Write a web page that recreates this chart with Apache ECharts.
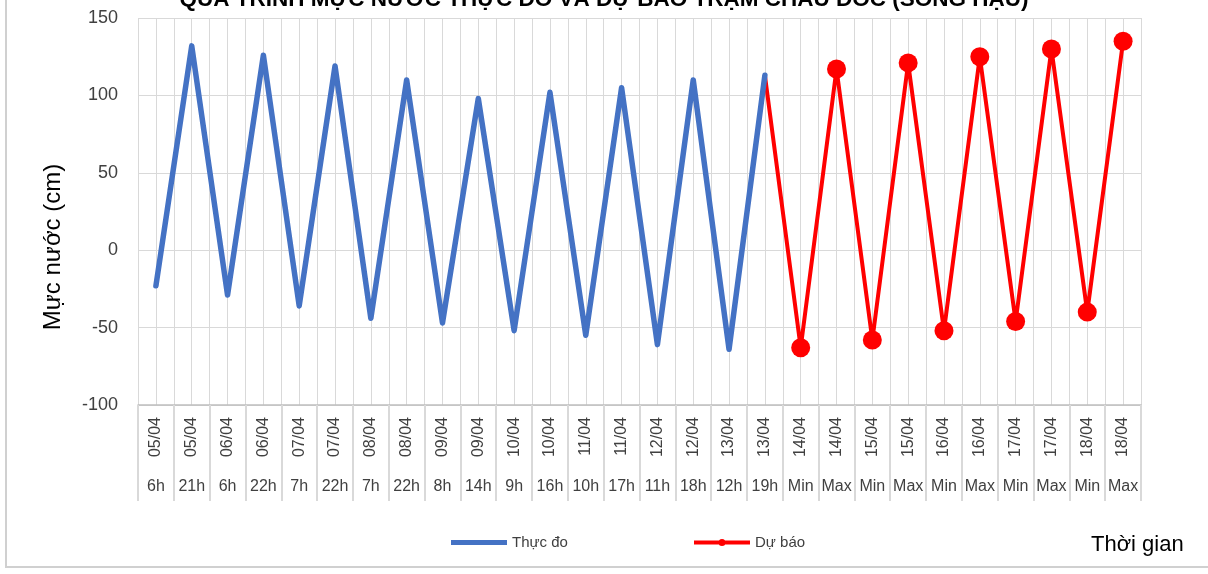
<!DOCTYPE html>
<html lang="vi">

<head>
    <meta charset="UTF-8" />
    <title>Mực nước trạm Châu Đốc</title>
    <script src="https://cdn.jsdelivr.net/npm/echarts@6/dist/echarts.min.js"></script>
    <style>
        * {
            margin: 0;
        }

        #chart {
            width: 1208px;
            height: 574px;
            background: #fff;
        }
    </style>
</head>

<body>
    <div id="chart"></div>
    <script>
        const dates = ["05/04", "05/04", "06/04", "06/04", "07/04", "07/04", "08/04", "08/04", "09/04", "09/04",
            "10/04", "10/04", "11/04", "11/04", "12/04", "12/04", "13/04", "13/04", "14/04", "14/04",
            "15/04", "15/04", "16/04", "16/04", "17/04", "17/04", "18/04", "18/04"];
        const times = ["6h", "21h", "6h", "22h", "7h", "22h", "7h", "22h", "8h", "14h",
            "9h", "16h", "10h", "17h", "11h", "18h", "12h", "19h", "Min", "Max",
            "Min", "Max", "Min", "Max", "Min", "Max", "Min", "Max"];
        // thực đo (measured)
        const observed = [-23, 132, -29, 126, -36, 119, -44, 110, -47, 98, -52, 102, -55, 105, -61, 110, -64, 113];
        // dự báo (forecast), Min/Max from 14/04
        const forecast = [-63, 117, -58, 121, -52, 125, -46, 130, -40, 135];

        const font = "Liberation Sans";
        const gridColor = "#d9d9d9";
        const textColor = "#404040";

        const blueData = dates.map((d, i) => (i < observed.length ? observed[i] : null));
        const last = observed.length - 1;
        const redData = dates.map((d, i) => {
            if (i < last) return null;
            if (i === last) return { value: observed[last], symbol: "none" };
            return forecast[i - observed.length];
        });

        // legend icons: plain bar for measured, bar with small dot for forecast
        const barIcon = "path://M0,0 L56,0 L56,5 L0,5 Z";
        const dotIcon = "path://M0,4 L56,4 L56,8 L0,8 Z M24.5,6 A3.5,3.5 0 1,1 31.5,6 A3.5,3.5 0 1,1 24.5,6 Z";

        const chart = echarts.init(document.getElementById("chart"));
        chart.setOption({
            animation: false,
            textStyle: { fontFamily: font },
            title: {
                text: "QUÁ TRÌNH MỰC NƯỚC THỰC ĐO VÀ DỰ BÁO TRẠM CHÂU ĐỐC (SÔNG HẬU)",
                left: "center",
                top: -17,
                textStyle: { fontFamily: font, fontSize: 22.5, fontWeight: "bold", color: "#000" },
            },
            grid: { left: 138, right: 67, top: 18, bottom: 169 },
            legend: [
                {
                    data: [{ name: "Thực đo", icon: barIcon }],
                    left: 446,
                    top: 530,
                    itemWidth: 56,
                    itemHeight: 5,
                    textStyle: { fontFamily: font, fontSize: 15, color: textColor },
                },
                {
                    data: [{ name: "Dự báo", icon: dotIcon }],
                    left: 689,
                    top: 530,
                    itemWidth: 56,
                    itemHeight: 7,
                    textStyle: { fontFamily: font, fontSize: 15, color: textColor },
                },
            ],
            xAxis: [
                {
                    type: "category",
                    data: dates,
                    position: "bottom",
                    boundaryGap: true,
                    axisLine: { onZero: false, lineStyle: { color: "#bfbfbf", width: 1.5 } },
                    axisTick: { show: true, interval: 0, length: 96, lineStyle: { color: gridColor, width: 2 } },
                    axisLabel: { interval: 0, rotate: 90, margin: 12, fontSize: 16, color: textColor, fontFamily: font },
                    splitLine: { show: false },
                },
                {
                    type: "category",
                    data: times,
                    position: "bottom",
                    boundaryGap: true,
                    axisLine: { show: false, onZero: false },
                    axisTick: { show: false },
                    axisLabel: { interval: 0, margin: 74, fontSize: 16, color: textColor, fontFamily: font },
                },
                {
                    // half-category grid lines, like the Excel major + minor gridlines
                    type: "value",
                    min: 0,
                    max: dates.length * 2,
                    interval: 1,
                    position: "bottom",
                    axisLine: { show: false, onZero: false },
                    axisTick: { show: false },
                    axisLabel: { show: false },
                    splitLine: { show: true, lineStyle: { color: gridColor, width: 1 } },
                },
            ],
            yAxis: {
                type: "value",
                min: -100,
                max: 150,
                interval: 50,
                axisLine: { show: false },
                axisTick: { show: false },
                axisLabel: { fontSize: 18, margin: 20, color: textColor, fontFamily: font },
                splitLine: { lineStyle: { color: gridColor, width: 1 } },
            },
            series: [
                {
                    name: "Thực đo",
                    type: "line",
                    data: blueData,
                    symbol: "none",
                    lineStyle: { color: "#4472C4", width: 5.5, cap: "round", join: "round" },
                    itemStyle: { color: "#4472C4" },
                    z: 3,
                },
                {
                    name: "Dự báo",
                    type: "line",
                    data: redData,
                    symbol: "circle",
                    symbolSize: 19,
                    lineStyle: { color: "#ff0000", width: 4, cap: "round", join: "round" },
                    itemStyle: { color: "#ff0000" },
                    z: 2,
                },
            ],
            graphic: [
                {
                    type: "rect",
                    shape: { x: 6, y: -10, width: 1230, height: 577 },
                    style: { fill: "none", stroke: "#d0d0d0", lineWidth: 2 },
                    silent: true,
                },
                {
                    type: "text",
                    x: 53,
                    y: 247,
                    rotation: Math.PI / 2,
                    style: {
                        text: "Mực nước (cm)",
                        fontFamily: font,
                        fontSize: 24,
                        fill: "#000",
                        align: "center",
                        verticalAlign: "middle",
                    },
                },
                {
                    type: "text",
                    left: 1091,
                    top: 534,
                    style: { text: "Thời gian", fontFamily: font, fontSize: 22, fill: "#000" },
                },
            ],
        });
    </script>
</body>

</html>
